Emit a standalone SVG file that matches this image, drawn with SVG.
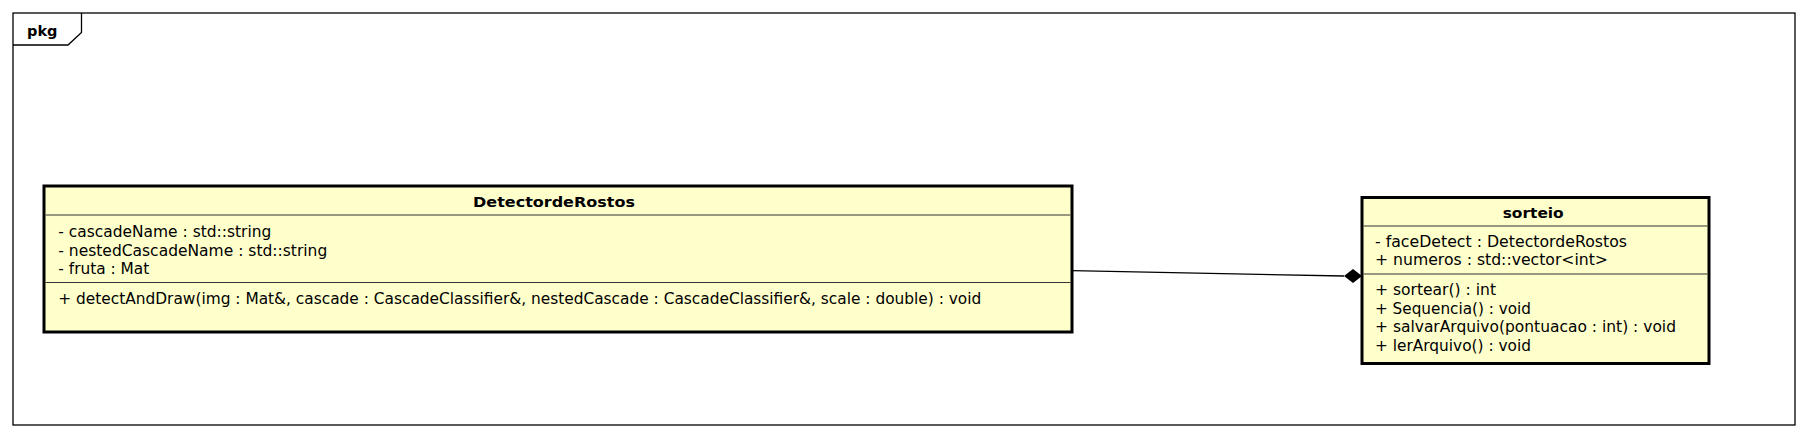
<svg xmlns="http://www.w3.org/2000/svg" width="1808" height="438" viewBox="0 0 1808 438">
<style>
.frame{fill:none;stroke:#000;stroke-width:1.3}
.box{fill:#FFFFCC;stroke:#000;stroke-width:3}
.sep{stroke:#333;stroke-width:1.2}
.t{font-family:"DejaVu Sans",sans-serif;font-size:15px;fill:#000}
.b{font-family:"DejaVu Sans",sans-serif;font-size:14.5px;font-weight:bold;fill:#000}
.conn{stroke:#000;stroke-width:1.3;fill:none}
</style>
<rect width="1808" height="438" fill="#fff"/>
<g id="pkg">
<rect class="frame" x="13" y="13" width="1782" height="412"/>
<path class="frame" d="M13,45 L68,45 L81.5,32.5 L81.5,13"/>
<text class="b" x="27" y="36" font-size="15">pkg</text>
</g>
<g id="DetectordeRostos">
<rect class="box" x="44" y="186" width="1028" height="146"/>
<line class="sep" x1="45.5" y1="215" x2="1070.5" y2="215"/>
<line class="sep" x1="45.5" y1="282.5" x2="1070.5" y2="282.5"/>
<text class="b" x="473" y="206.5" textLength="162" lengthAdjust="spacingAndGlyphs">DetectordeRostos</text>
<text class="t" x="58.3" y="236.5" textLength="213" lengthAdjust="spacingAndGlyphs">- cascadeName : std::string</text>
<text class="t" x="58.3" y="255.5" textLength="269" lengthAdjust="spacingAndGlyphs">- nestedCascadeName : std::string</text>
<text class="t" x="58.3" y="274" textLength="91" lengthAdjust="spacingAndGlyphs">- fruta : Mat</text>
<text class="t" x="58.3" y="304" textLength="923" lengthAdjust="spacingAndGlyphs">+ detectAndDraw(img : Mat&amp;, cascade : CascadeClassifier&amp;, nestedCascade : CascadeClassifier&amp;, scale : double) : void</text>
</g>
<g id="sorteio">
<rect class="box" x="1362" y="197.5" width="347" height="166"/>
<line class="sep" x1="1363.5" y1="226" x2="1707.5" y2="226"/>
<line class="sep" x1="1363.5" y1="274" x2="1707.5" y2="274"/>
<text class="b" x="1502.7" y="218" textLength="61" lengthAdjust="spacingAndGlyphs">sorteio</text>
<text class="t" x="1375" y="246.5" textLength="252" lengthAdjust="spacingAndGlyphs">- faceDetect : DetectordeRostos</text>
<text class="t" x="1375" y="265" textLength="233" lengthAdjust="spacingAndGlyphs">+ numeros : std::vector&lt;int&gt;</text>
<text class="t" x="1375" y="295" textLength="121" lengthAdjust="spacingAndGlyphs">+ sortear() : int</text>
<text class="t" x="1375" y="313.5" textLength="156" lengthAdjust="spacingAndGlyphs">+ Sequencia() : void</text>
<text class="t" x="1375" y="332" textLength="301" lengthAdjust="spacingAndGlyphs">+ salvarArquivo(pontuacao : int) : void</text>
<text class="t" x="1375" y="350.5" textLength="156" lengthAdjust="spacingAndGlyphs">+ lerArquivo() : void</text>
</g>
<g id="connectors">
<line class="conn" x1="1072" y1="270.7" x2="1344" y2="276"/>
<polygon points="1344,276 1353,269 1362,276 1353,283" fill="#000"/>
</g>
</svg>
